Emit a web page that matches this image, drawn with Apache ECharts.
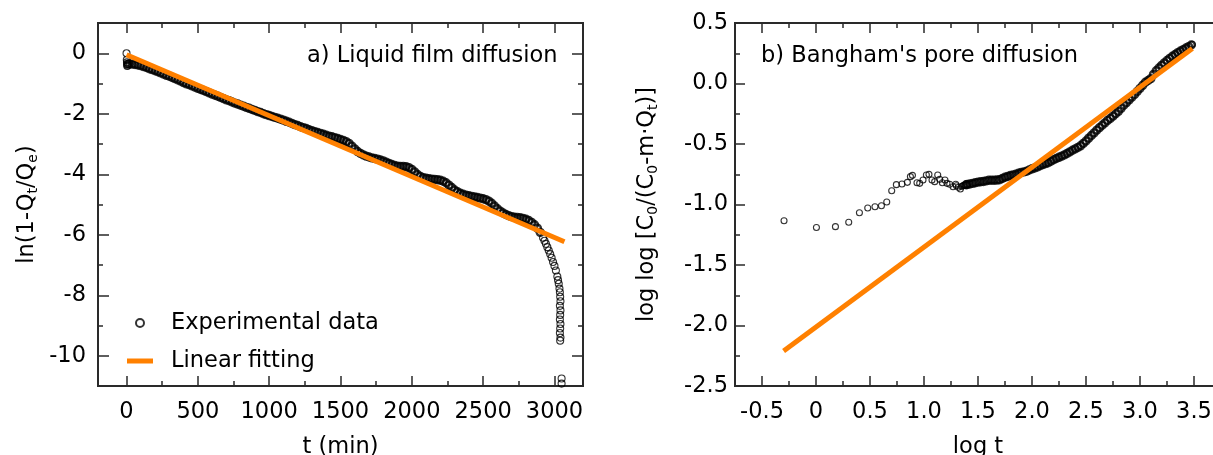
<!DOCTYPE html>
<html><head><meta charset="utf-8">
<script src="https://cdn.jsdelivr.net/npm/echarts@6/dist/echarts.min.js"></script>
<style>html,body{margin:0;padding:0;background:#fff}#c{width:1213px;height:455px}</style>
</head><body><div id="c"></div>
<script>
// ---- (a) Liquid film diffusion: t (min) vs ln(1-Qt/Qe)
const filmT = [0,2,3,4,5,8,10,
 20,40,60,80,100,120,140,160,180,200,220,240,260,280,300,320,340,360,380,400,420,440,460,480,
 500,520,540,560,580,600,620,640,660,680,700,720,740,760,780,800,820,840,860,880,900,920,940,960,980,
 1000,1020,1040,1060,1080,1100,1120,1140,1160,1180,1200,1220,1240,1260,1280,1300,1320,1340,1360,1380,
 1400,1420,1440,1460,1480,1500,1520,1540,1560,1580,1600,1620,1640,1660,1680,1700,1720,1740,1760,1780,
 1800,1820,1840,1860,1880,1900,1920,1940,1960,1980,2000,2020,2040,2060,2080,2100,2120,2140,2160,2180,
 2200,2220,2240,2260,2280,2300,2320,2340,2360,2380,2400,2420,2440,2460,2480,2500,2520,2540,2560,2580,
 2600,2620,2640,2660,2680,2700,2720,2740,2760,2780,2800,2820,2840,2860,2880,2900,
 2920,2930,2940,2950,2960,2970,2980,2990,3000,3010,3020,3025,3030,3035,3038,
 3040,3042,3038,3042,3040,3038,3042,3040,3038,3042,3040,3050,3050];
const filmY = [0.0,-0.22,-0.30,-0.36,-0.42,-0.40,-0.35,
 -0.35,-0.36,-0.37,-0.39,-0.41,-0.44,-0.47,-0.51,-0.54,-0.58,-0.61,-0.65,-0.69,-0.73,-0.76,-0.80,-0.84,-0.88,-0.92,-0.97,-1.01,-1.04,-1.08,-1.12,
 -1.16,-1.20,-1.23,-1.27,-1.31,-1.35,-1.39,-1.42,-1.46,-1.50,-1.54,-1.57,-1.61,-1.65,-1.68,-1.72,-1.75,-1.79,-1.82,-1.86,-1.89,-1.93,-1.96,-2.00,-2.03,
 -2.06,-2.09,-2.12,-2.15,-2.18,-2.21,-2.25,-2.28,-2.32,-2.36,-2.39,-2.43,-2.46,-2.49,-2.53,-2.56,-2.59,-2.62,-2.65,-2.68,
 -2.71,-2.74,-2.76,-2.79,-2.82,-2.85,-2.88,-2.92,-2.98,-3.07,-3.16,-3.25,-3.31,-3.36,-3.40,-3.43,-3.46,-3.48,-3.50,-3.53,
 -3.56,-3.60,-3.64,-3.68,-3.71,-3.73,-3.74,-3.74,-3.75,-3.78,-3.84,-3.92,-4.01,-4.07,-4.11,-4.13,-4.15,-4.16,-4.17,-4.18,
 -4.20,-4.23,-4.28,-4.36,-4.44,-4.52,-4.58,-4.63,-4.66,-4.69,-4.71,-4.73,-4.75,-4.77,-4.79,-4.81,-4.84,-4.89,-4.96,-5.05,
 -5.14,-5.22,-5.28,-5.33,-5.37,-5.40,-5.42,-5.43,-5.44,-5.46,-5.49,-5.53,-5.59,-5.67,-5.78,-5.92,
 -6.10,-6.20,-6.30,-6.41,-6.52,-6.64,-6.76,-6.90,-7.03,-7.18,-7.38,-7.50,-7.62,-7.78,-7.90,
 -8.05,-8.20,-8.35,-8.50,-8.65,-8.80,-8.95,-9.10,-9.25,-9.40,-9.50,-10.75,-10.92];
const filmFitT = [0, 3070];
const filmFitY = [-0.05, -6.23];

// ---- (b) Bangham's pore diffusion: log t vs log log [C0/(C0-m·Qt)]
const poreLogT = [-0.296,0.004,0.180,0.303,0.402,0.479,0.546,0.606,0.655,0.701,0.744,0.796,0.846,0.874,0.893,
 0.935,0.960,0.991,1.022,1.046,1.074,1.099,1.127,1.145,1.170,1.194,1.213,1.238,1.269,1.294,1.300,1.318,1.337,1.350,1.361,1.370,1.380,1.390,
 1.400,1.425,1.450,1.475,1.500,1.525,1.550,1.575,1.600,1.625,1.650,1.675,1.700,1.725,1.750,1.775,1.800,1.825,1.850,1.875,1.900,1.925,
 1.950,1.975,2.000,2.025,2.050,2.075,2.100,2.125,2.150,2.175,2.200,2.225,2.250,2.275,2.300,2.325,2.350,2.375,2.400,2.425,
 2.450,2.475,2.500,2.525,2.550,2.575,2.600,2.625,2.650,2.675,2.700,2.725,2.750,2.775,2.800,2.825,2.850,2.875,2.900,2.925,
 2.950,2.975,3.000,3.025,3.050,3.075,3.100,3.125,3.150,3.175,3.200,3.225,3.250,3.275,3.300,3.325,3.350,3.375,3.400,3.425,
 3.450,3.475,3.484];
const poreY = [-1.134,-1.190,-1.183,-1.147,-1.068,-1.029,-1.018,-1.010,-0.979,-0.886,-0.836,-0.830,-0.817,-0.770,-0.759,
 -0.820,-0.825,-0.797,-0.756,-0.751,-0.797,-0.811,-0.756,-0.792,-0.820,-0.797,-0.825,-0.833,-0.853,-0.833,-0.845,-0.858,-0.872,-0.850,-0.845,-0.842,-0.840,-0.837,
 -0.835,-0.830,-0.825,-0.820,-0.815,-0.812,-0.810,-0.805,-0.800,-0.800,-0.800,-0.798,-0.795,-0.785,-0.775,-0.768,-0.760,-0.755,-0.750,-0.742,-0.735,-0.730,
 -0.725,-0.715,-0.705,-0.698,-0.690,-0.680,-0.670,-0.662,-0.655,-0.642,-0.630,-0.620,-0.610,-0.600,-0.590,-0.578,-0.565,-0.552,-0.540,-0.528,
 -0.515,-0.495,-0.475,-0.452,-0.430,-0.408,-0.385,-0.365,-0.345,-0.325,-0.305,-0.288,-0.270,-0.250,-0.230,-0.205,-0.180,-0.158,-0.135,-0.112,
 -0.090,-0.065,-0.040,-0.015,0.010,0.025,0.040,0.075,0.105,0.128,0.150,0.170,0.190,0.208,0.225,0.240,0.255,0.268,0.280,0.293,
 0.305,0.318,0.325];
const poreFitX = [-0.30, 3.485];
const poreFitY = [-2.21, 0.29];

// ---- tick values
const filmXMajor = [0,500,1000,1500,2000,2500,3000];
const filmXMinor = [250,750,1250,1750,2250,2750];
const filmYMajor = [0,-2,-4,-6,-8,-10];
const filmYMinor = [-1,-3,-5,-7,-9];
const poreXMajor = [-0.5,0,0.5,1,1.5,2,2.5,3,3.5];
const poreXMinor = [-0.25,0.25,0.75,1.25,1.75,2.25,2.75,3.25];
const poreYMajor = [-2.5,-2,-1.5,-1,-0.5,0,0.5];
const poreYMinor = [-2.25,-1.75,-1.25,-0.75,-0.25,0.25];

const FONT = 'DejaVu Sans';
const FS = 22.5;
const AX = '#2a2a2a';
const TXT = '#000';
function ax(grid, pos, min, max, vals, len, lab, extra) {
  const o = {
    type: 'value', gridIndex: grid, position: pos, min: min, max: max,
    axisLine: {show: true, onZero: false, lineStyle: {color: AX, width: 2}},
    axisTick: {show: true, inside: true, length: len, customValues: vals, lineStyle: {color: AX, width: 1.5}},
    axisLabel: lab ? Object.assign({show: true, customValues: vals, color: TXT, fontFamily: FONT, fontSize: FS}, lab) : {show: false},
    splitLine: {show: false}
  };
  return Object.assign(o, extra || {});
}
const nameStyle = {fontFamily: FONT, fontSize: FS, color: TXT};
const richStyle = {
  n: {fontFamily: FONT, fontSize: FS, color: TXT, lineHeight: 26},
  s: {fontFamily: FONT, fontSize: 14, color: TXT, lineHeight: 12, verticalAlign: 'bottom'}
};
const poreFmtX = v => (Math.abs(v) < 1e-9 ? '0' : v.toFixed(1));
const poreFmtY = v => v.toFixed(1);

const xAxis = [
  ax(0, 'bottom', -200, 3200, filmXMajor, 10, {margin: 15, formatter: v => String(v)},
     {name: 't (min)', nameLocation: 'middle', nameGap: 50, nameTextStyle: nameStyle}),
  ax(0, 'bottom', -200, 3200, filmXMinor, 5, null),
  ax(0, 'top', -200, 3200, filmXMajor, 10, null),
  ax(0, 'top', -200, 3200, filmXMinor, 5, null),
  ax(1, 'bottom', -0.75, 3.75, poreXMajor, 10, {margin: 15, formatter: poreFmtX},
     {name: 'log t', nameLocation: 'middle', nameGap: 50, nameTextStyle: nameStyle}),
  ax(1, 'bottom', -0.75, 3.75, poreXMinor, 5, null),
  ax(1, 'top', -0.75, 3.75, poreXMajor, 10, null),
  ax(1, 'top', -0.75, 3.75, poreXMinor, 5, null)
];
const yAxis = [
  ax(0, 'left', -11, 1, filmYMajor, 11, {margin: 12, formatter: v => String(v)},
     {name: '{n|ln(1-Q}{s|t}{n|/Q}{s|e}{n|)}', nameLocation: 'middle', nameRotate: 90, nameGap: 58,
      nameTextStyle: Object.assign({rich: richStyle}, nameStyle)}),
  ax(0, 'left', -11, 1, filmYMinor, 5, null),
  ax(0, 'right', -11, 1, filmYMajor, 11, null),
  ax(0, 'right', -11, 1, filmYMinor, 5, null),
  ax(1, 'left', -2.5, 0.5, poreYMajor, 10, {margin: 7, formatter: poreFmtY},
     {name: '{n|log log [C}{s|0}{n|/(C}{s|0}{n|-m·Q}{s|t}{n|)]}', nameLocation: 'middle', nameRotate: 90, nameGap: 75,
      nameTextStyle: Object.assign({rich: richStyle}, nameStyle)}),
  ax(1, 'left', -2.5, 0.5, poreYMinor, 5, null)
];

const sparseStyle = {color: 'rgba(0,0,0,0)', borderColor: '#000', borderWidth: 1.1};
const denseStyle = {color: 'rgba(0,0,0,0)', borderColor: '#000', borderWidth: 2.4};
const ORANGE = '#ff8000';

const filmPts = filmT.map((t, i) => [t, filmY[i]]);
const filmDense = filmPts.filter(p => p[0] >= 15 && p[0] <= 2900);
const filmSparse = filmPts.filter(p => p[0] < 15 || p[0] > 2900);
const porePts = poreLogT.map((t, i) => [t, poreY[i]]);
const poreDense = porePts.filter(p => p[0] >= 1.39 && p[0] < 3.48);
const poreSparse = porePts.filter(p => p[0] < 1.39 || p[0] >= 3.48);

const option = {
  animation: false,
  backgroundColor: '#fff',
  title: [
    {text: 'a) Liquid film diffusion', left: 307, top: 43, padding: 0,
     textStyle: {fontFamily: FONT, fontSize: FS, fontWeight: 'normal', color: TXT, lineHeight: 26}},
    {text: "b) Bangham's pore diffusion", left: 761, top: 43, padding: 0,
     textStyle: {fontFamily: FONT, fontSize: FS, fontWeight: 'normal', color: TXT, lineHeight: 26}}
  ],
  legend: {
    data: [
      {name: 'Experimental data', icon: 'circle'},
      {name: 'Linear fitting', icon: 'path://M0,0H26V5H0Z', itemStyle: {color: ORANGE, borderWidth: 0}}
    ],
    orient: 'vertical', left: 127, top: 310, padding: 0,
    itemWidth: 26, itemHeight: 8, itemGap: 12,
    selectedMode: false,
    textStyle: {fontFamily: FONT, fontSize: FS, color: TXT, lineHeight: 26, padding: [0, 0, 0, 13]}
  },
  grid: [
    {left: 98, top: 23, width: 485, height: 363, outerBoundsMode: 'none', containLabel: false},
    {left: 735, top: 23, width: 486, height: 363, outerBoundsMode: 'none', containLabel: false}
  ],
  xAxis: xAxis,
  yAxis: yAxis,
  series: [
    {name: 'Experimental data', type: 'scatter', xAxisIndex: 0, yAxisIndex: 0,
     symbol: 'circle', symbolSize: 7, itemStyle: sparseStyle, z: 2, data: filmSparse},
    {name: 'Experimental data', type: 'scatter', xAxisIndex: 0, yAxisIndex: 0,
     symbol: 'circle', symbolSize: 7, itemStyle: denseStyle, z: 2, data: filmDense},
    {name: 'Linear fitting', type: 'line', xAxisIndex: 0, yAxisIndex: 0,
     symbol: 'none', lineStyle: {color: ORANGE, width: 5}, itemStyle: {color: ORANGE}, z: 3,
     data: filmFitT.map((t, i) => [t, filmFitY[i]])},
    {name: 'Pore data', type: 'scatter', xAxisIndex: 4, yAxisIndex: 4,
     symbol: 'circle', symbolSize: 6, itemStyle: sparseStyle, z: 2, data: poreSparse},
    {name: 'Pore data', type: 'scatter', xAxisIndex: 4, yAxisIndex: 4,
     symbol: 'circle', symbolSize: 7, itemStyle: denseStyle, z: 2, data: poreDense},
    {name: 'Pore fit', type: 'line', xAxisIndex: 4, yAxisIndex: 4,
     symbol: 'none', lineStyle: {color: ORANGE, width: 5}, itemStyle: {color: ORANGE}, z: 3,
     data: poreFitX.map((t, i) => [t, poreFitY[i]])}
  ]
};
const chart = echarts.init(document.getElementById('c'), null, {renderer: 'canvas'});
chart.setOption(option);
</script></body></html>
